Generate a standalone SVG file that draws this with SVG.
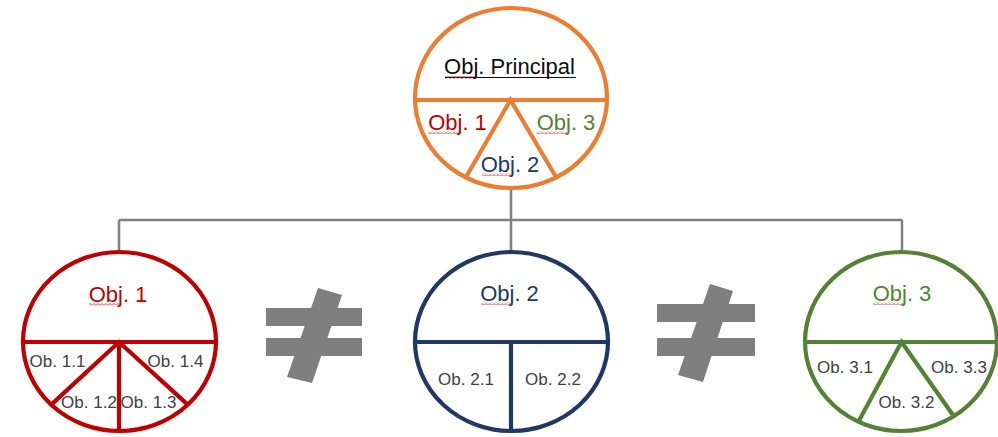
<svg xmlns="http://www.w3.org/2000/svg" width="998" height="437" viewBox="0 0 998 437">
<style>
.big{font-family:"Liberation Sans",Arial,sans-serif;font-size:22px;text-anchor:middle}
.sm{font-family:"Liberation Sans",Arial,sans-serif;font-size:17px;text-anchor:middle;fill:#404040}
.o{fill:none;stroke:#ED7D31;stroke-width:4.2}
.r{fill:none;stroke:#C00000;stroke-width:4.2}
.b{fill:none;stroke:#203864;stroke-width:4.2}
.g{fill:none;stroke:#548235;stroke-width:4.2}
.conn{fill:none;stroke:#808080;stroke-width:2.5}
.neq{fill:#7F7F7F}
</style>
<defs>
<pattern id="wave" x="0" y="0" width="4" height="3" patternUnits="userSpaceOnUse">
<path d="M0 2.5 L2 0.5 L4 2.5" fill="none" stroke="#E02020" stroke-width="0.9"/>
</pattern>
</defs>
<rect width="998" height="437" fill="#fff"/>
<g id="connectors">
<path class="conn" d="M511 188 V220 M119 220 H902 M119 220 V252 M511 220 V252 M902 220 V252"/>
</g>
<g id="principal">
<ellipse class="o" cx="511" cy="98" rx="96" ry="90" fill="#fff"/>
<path class="o" d="M415 100 H607 M466 177 L510.5 100 L556.3 177.5" stroke-linejoin="miter"/>
<text class="big" x="509.5" y="74" fill="#0D0D0D">Obj. Principal</text>
<line x1="445" y1="77.5" x2="576" y2="77.5" stroke="#0D0D0D" stroke-width="1.2"/>
<rect x="445" y="76" width="30" height="3" fill="url(#wave)"/>
<text class="big" x="457.5" y="130" fill="#C00000">Obj. 1</text>
<rect x="428" y="131" width="30" height="3" fill="url(#wave)"/>
<text class="big" x="566" y="130" fill="#548235">Obj. 3</text>
<rect x="537" y="131" width="30" height="3" fill="url(#wave)"/>
<text class="big" x="510" y="172" fill="#203864">Obj. 2</text>
<rect x="482" y="173" width="30" height="3" fill="url(#wave)"/>
</g>
<g id="obj1">
<ellipse class="r" cx="119.5" cy="341.5" rx="96.5" ry="89.5"/>
<path class="r" d="M23 342 H216 M51.3 404.6 L119 342 L187.7 404.6 M119 342 V431"/>
<text class="big" x="118" y="302" fill="#C00000">Obj. 1</text>
<rect x="89" y="303" width="30" height="3" fill="url(#wave)"/>
<text class="sm" x="57.5" y="367">Ob. 1.1</text>
<text class="sm" x="175.5" y="367">Ob. 1.4</text>
<text class="sm" x="89" y="408">Ob. 1.2</text>
<text class="sm" x="148.5" y="408">Ob. 1.3</text>
</g>
<g id="neq1">
<rect class="neq" x="266" y="308" width="96" height="18"/>
<rect class="neq" x="266" y="338" width="96" height="18"/>
<polygon class="neq" points="318,288 342,295 312,383 287,377"/>
</g>
<g id="obj2">
<ellipse class="b" cx="511.5" cy="341.5" rx="96.5" ry="89.5"/>
<path class="b" d="M415 342 H608 M511 342 V431"/>
<text class="big" x="509.5" y="301" fill="#203864">Obj. 2</text>
<rect x="481" y="302" width="30" height="3" fill="url(#wave)"/>
<text class="sm" x="466" y="385">Ob. 2.1</text>
<text class="sm" x="553" y="385">Ob. 2.2</text>
</g>
<g id="neq2">
<rect class="neq" x="657" y="304" width="98" height="18"/>
<rect class="neq" x="657" y="338" width="98" height="18"/>
<polygon class="neq" points="710,284 733,291 703,382 678,375"/>
</g>
<g id="obj3">
<ellipse class="g" cx="901" cy="341.5" rx="96" ry="89.5"/>
<path class="g" d="M805 342 H997 M858.4 421.7 L901.5 342 L954 416.5"/>
<text class="big" x="902" y="301" fill="#548235">Obj. 3</text>
<rect x="873" y="302" width="30" height="3" fill="url(#wave)"/>
<text class="sm" x="845" y="373">Ob. 3.1</text>
<text class="sm" x="959" y="373">Ob. 3.3</text>
<text class="sm" x="906.5" y="408">Ob. 3.2</text>
</g>
</svg>
